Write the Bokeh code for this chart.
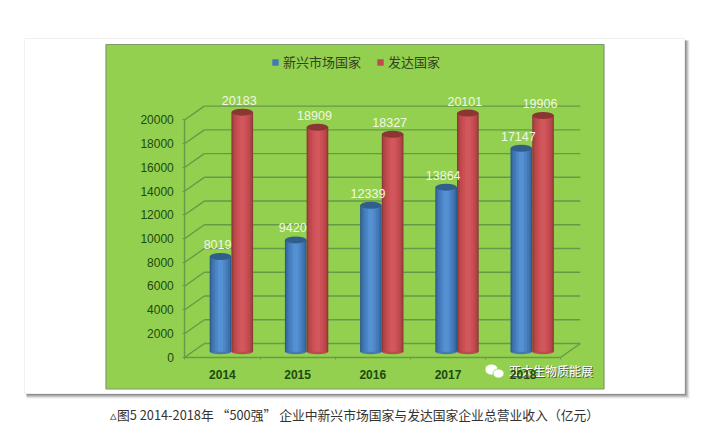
from bokeh.plotting import figure
from bokeh.embed import file_html
from bokeh.resources import INLINE
from bokeh.models import Range1d, LinearAxis, FixedTicker, Legend, LegendItem
from bokeh.core.properties import value

years = [2014, 2015, 2016, 2017, 2018]
emerging = [8019, 9420, 12339, 13864, 17147]
developed = [20183, 18909, 18327, 20101, 19906]
y_ticks = [0, 2000, 4000, 6000, 8000, 10000, 12000, 14000, 16000, 18000, 20000]
series_names = ["新兴市场国家", "发达国家"]
caption = "▵图5 2014-2018年 “500强” 企业中新兴市场国家与发达国家企业总营业收入（亿元）"
watermark = "亚太生物质能展"

# geometry of the picture (image pixels)
X0, XS = 184.3, 75.2      # left of the front axis, pixels per category
Y0, YS = 356.7, 0.01187   # front zero line, pixels per unit
LEFT, RIGHT, TOP, BOTTOM = 0, 700, 0, 434


def x_rng(dx=0.0):
    f = lambda p: 2013.5 + (p - X0 - dx) / XS
    return Range1d(f(LEFT), f(RIGHT))


def y_rng(dy=0.0):
    f = lambda p: (Y0 + dy - p) / YS
    return Range1d(f(BOTTOM), f(TOP))


p = figure(width=RIGHT - LEFT, height=BOTTOM - TOP, output_backend="svg", toolbar_location=None,
           x_range=x_rng(), y_range=y_rng(), x_axis_type=None, y_axis_type=None,
           min_border=0, min_border_left=0, min_border_right=0, min_border_top=0, min_border_bottom=0,
           outline_line_color=None, background_fill_color="white", border_fill_color="white")
p.grid.visible = False

DX_BAR, DY_BAR = 9.0, -5.5
DX_BACK, DY_BACK = 19.5, -13.7
p.extra_x_ranges = {"px": Range1d(LEFT, RIGHT), "bar": x_rng(DX_BAR), "back": x_rng(DX_BACK)}
p.extra_y_ranges = {"px": Range1d(BOTTOM, TOP), "bar": y_rng(DY_BAR), "back": y_rng(DY_BACK)}
px = dict(x_range_name="px", y_range_name="px")
bar = dict(x_range_name="bar", y_range_name="bar")
back = dict(x_range_name="back", y_range_name="back")

# card with soft shadow
for off, a in [(5, 0.10), (4, 0.16), (3, 0.22), (2, 0.30), (1, 0.35)]:
    p.quad(left=[26], right=[684 + off], top=[40], bottom=[393 + off], fill_color="#555555",
           fill_alpha=a, line_color=None, **px)
p.quad(left=[24], right=[684], top=[38], bottom=[393], fill_color="white",
       line_color="#f0f0f0", line_width=1, **px)
# green panel
p.quad(left=[105.5], right=[603.5], top=[44], bottom=[388.5], fill_color="#93d04f",
       line_color="#7d9a68", line_width=1.2, **px)

GRID = "#649a48"
x_l, x_r = 2013.5, 2018.5
# back-wall gridlines
p.segment(x0=[x_l] * len(y_ticks), x1=[x_r] * len(y_ticks), y0=y_ticks, y1=y_ticks,
          line_color=GRID, line_width=1.4, **back)
# side-wall diagonals, from the front axis to the back wall
ddx, ddy = DX_BACK / XS, -DY_BACK / YS
p.segment(x0=[x_l] * len(y_ticks), x1=[x_l + ddx] * len(y_ticks), y0=y_ticks,
          y1=[t + ddy for t in y_ticks], line_color=GRID, line_width=1.4)
# floor right edge
p.segment(x0=[x_r], x1=[x_r + ddx], y0=[0], y1=[ddy], line_color=GRID, line_width=1.4)

# cylinders
BAR_W = 21.7 / XS
BLUE = ["#2b5c8c", "#3a6ea8", "#4479b8", "#4c84c6", "#5590d2"]
RED = ["#8f3a38", "#ac4444", "#bf4a4d", "#cb4f54", "#d2575c"]
FRACS = [1.0, 0.88, 0.72, 0.5, 0.26]
legend_refs = []
for vals, cols, shift, top_col in [(emerging, BLUE, -0.5, "#2f5f8a"), (developed, RED, 0.5, "#8c3634")]:
    xs = [y + shift * BAR_W for y in years]
    p.ellipse(x=xs, y=[0] * 5, width=BAR_W * XS, height=5, width_units="screen", height_units="screen",
              fill_color=cols[2], line_color=None, **bar)
    rr = []
    for f, c in zip(FRACS, cols):
        rr.append(p.vbar(x=xs, top=vals, bottom=0, width=BAR_W * f, fill_color=c, line_color=None, **bar))
    p.ellipse(x=xs, y=vals, width=BAR_W * XS, height=7, width_units="screen", height_units="screen",
              fill_color=top_col, line_color=None, **bar)
    legend_refs.append(rr[2])

# axes
yax = LinearAxis(fixed_location=x_l, bounds=(0, 20000), ticker=FixedTicker(ticks=y_ticks), axis_line_color=GRID,
                 axis_line_width=1.4, major_tick_line_color=GRID, major_tick_out=2, major_tick_in=0,
                 minor_tick_line_color=None, major_label_standoff=9,
                 major_label_text_font="Liberation Sans", major_label_text_font_size="12px",
                 major_label_text_color="#1c4a10")
p.add_layout(yax, "left")
xax = LinearAxis(fixed_location=0, bounds=(x_l, x_r),
                 ticker=FixedTicker(ticks=years, minor_ticks=[y + 0.5 for y in [2013] + years]),
                 axis_line_color=GRID, axis_line_width=1.4, major_tick_line_color=None,
                 major_tick_out=0, major_tick_in=0, minor_tick_line_color=GRID, minor_tick_out=2,
                 minor_tick_in=0, major_label_standoff=11,
                 major_label_text_font="Liberation Sans", major_label_text_font_size="12px",
                 major_label_text_font_style="bold", major_label_text_color="#1c4a10")
xax.major_label_overrides = {y: str(y) for y in years}
p.add_layout(xax, "below")

# data labels
for vals, shift in [(emerging, -0.5), (developed, 0.5)]:
    p.text(x=[y + shift * BAR_W for y in years], y=vals, text=[str(v) for v in vals],
           text_font=value("Liberation Sans"), text_font_size="12.5px", text_color="#f2f8e2",
           text_align="center", text_baseline="middle", x_offset=-3, y_offset=-12, **bar)

# legend
legend = Legend(items=[LegendItem(label=value(n), renderers=[r]) for n, r in zip(series_names, legend_refs)],
                orientation="horizontal", location=(271, 363), background_fill_alpha=0,
                border_line_color=None, padding=0, margin=0, glyph_width=8, glyph_height=8,
                label_standoff=4, spacing=15, label_text_font="Noto Sans CJK SC",
                label_text_font_size="13px", label_text_color="#33421f")
p.add_layout(legend, "center")

# watermark
p.ellipse(x=[491, 498], y=[369, 373], width=[13, 11], height=[11, 9], fill_color="white",
          line_color="#93d04f", line_width=0.8, **px)
p.text(x=[551.5], y=[371], text=[watermark], text_font=value("Noto Sans CJK SC"), text_font_size="12px",
       text_color="#555555", text_align="center", text_baseline="middle", **px)
p.text(x=[550.5], y=[370], text=[watermark], text_font=value("Noto Sans CJK SC"), text_font_size="12px",
       text_color="white", text_align="center", text_baseline="middle", **px)

# caption
p.text(x=[354], y=[414], text=[caption], text_font=value("Noto Sans CJK SC"), text_font_size="12.8px",
       text_color="#333333", text_align="center", text_baseline="middle", **px)

open("out.html", "w").write(file_html(p, INLINE))
